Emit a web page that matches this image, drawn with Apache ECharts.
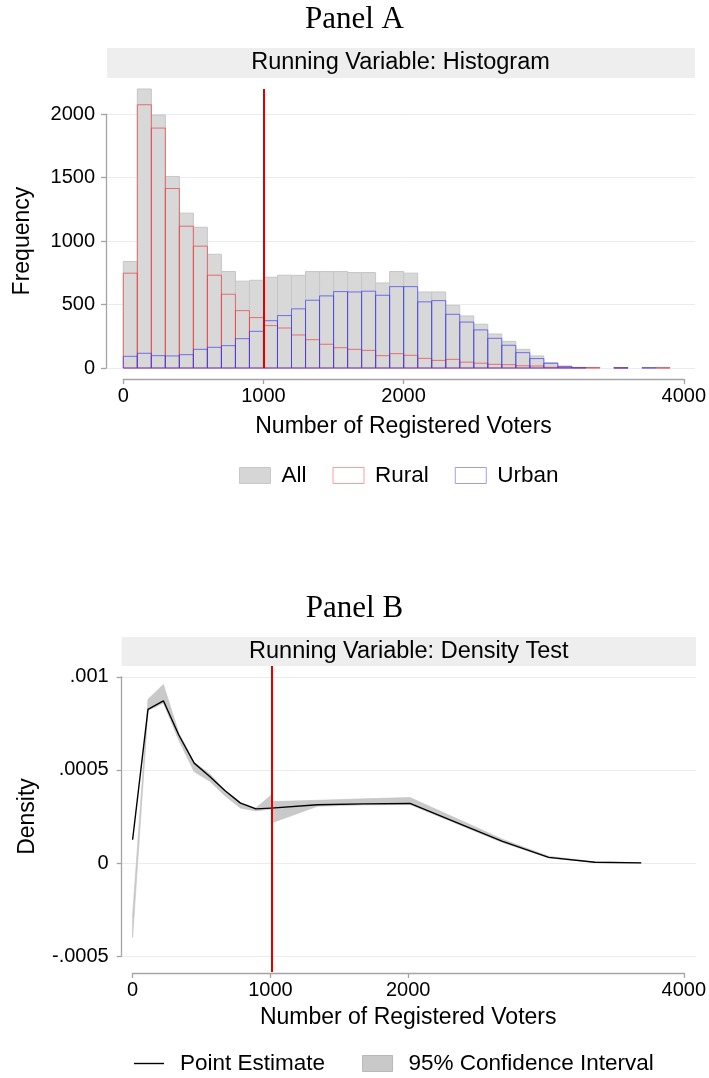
<!DOCTYPE html>
<html>
<head>
<meta charset="utf-8">
<script src="https://cdn.jsdelivr.net/npm/echarts@6/dist/echarts.min.js"></script>
<style>
  html, body { margin: 0; padding: 0; background: #ffffff; }
  #chart { width: 709px; height: 1078px; }
</style>
</head>
<body>
<div id="chart"></div>
<script>
// ---------- Panel A: histogram of registered voters (100-voter bins) ----------
const binWidth = 100;
const binStarts = [0, 100, 200, 300, 400, 500, 600, 700, 800, 900,
  1000, 1100, 1200, 1300, 1400, 1500, 1600, 1700, 1800, 1900,
  2000, 2100, 2200, 2300, 2400, 2500, 2600, 2700, 2800, 2900,
  3000, 3100, 3200, 3300, 3400, 3500, 3600, 3700, 3800];
const allCounts = [839, 2198, 1993, 1509, 1220, 1109, 896, 760, 684, 691,
  715, 731, 730, 760, 760, 760, 752, 752, 670, 760,
  747, 599, 599, 494, 410, 345, 268, 210, 147, 95,
  42, 16, 5, 3, 0, 3, 0, 2, 2];
const ruralCounts = [747, 2074, 1890, 1414, 1117, 960, 731, 581, 452, 397,
  334, 315, 260, 223, 187, 160, 147, 139, 97, 113,
  100, 76, 60, 68, 46, 38, 29, 26, 18, 16,
  5, 4, 2, 3, 0, 1, 0, 0, 2];
const urbanCounts = [92, 116, 97, 95, 105, 147, 163, 176, 231, 289,
  373, 413, 466, 534, 568, 602, 599, 605, 573, 641,
  641, 521, 531, 423, 362, 300, 234, 179, 121, 74,
  37, 11, 3, 0, 0, 2, 0, 2, 0];
const cutoff = 1000;
const voterTicks = [0, 1000, 2000, 4000];
const freqMax = 2000, freqStep = 500;

// ---------- Panel B: density test (local polynomial estimate and 95% CI) ----------
const densLeftX   = [0, 111, 222, 333, 444, 556, 667, 778, 889, 1000];
const densLeftEst = [0.000125, 0.000826, 0.000872, 0.000688, 0.000537, 0.000465, 0.000388, 0.000322, 0.000291, 0.000295];
const densLeftLo  = [-0.00040, 0.00082, 0.00086, 0.00066, 0.00049, 0.00044, 0.00036, 0.000295, 0.00028, 0.00029];
const densLeftHi  = [-0.00028, 0.00088, 0.00096, 0.00070, 0.00054, 0.00048, 0.00039, 0.000325, 0.000295, 0.000366];
const densRightX   = [1000, 1333, 1667, 2000, 2333, 2667, 3000, 3333, 3667];
const densRightEst = [0.000295, 0.000313, 0.000318, 0.000320, 0.000218, 0.000116, 0.000030, 0.000004, 0.0000005];
const densRightLo  = [0.000215, 0.000305, 0.000312, 0.000314, 0.000212, 0.000110, 0.000027, 0.000003, 0.0];
const densRightHi  = [0.000330, 0.000337, 0.000345, 0.000352, 0.000240, 0.000128, 0.000036, 0.000006, 0.000001];
const densTickMin = -0.0005, densTickMax = 0.001, densStep = 0.0005;

// ---------- layout ----------
const SANS = '"Liberation Sans", Arial, Helvetica, sans-serif';
const SERIF = '"Liberation Serif", "Times New Roman", Times, serif';
const AXIS_GRAY = '#a4a4a4';
const GRID_GRAY = '#ececec';

const A = { plotL: 123.3, plotR: 684, top: 89, bottom: 368, frameL: 106, frameR: 695, axisY: 379 };
const B = { plotL: 132.6, plotR: 687.4, top: 666, bottom: 972, frameL: 121.7, frameR: 696, axisY: 973 };
const yMaxA = Math.max(...allCounts);
const yMinB = -0.000586, yMaxB = 0.001059;
const yPixA = v => A.bottom - v / yMaxA * (A.bottom - A.top);
const yPixB = v => B.top + (yMaxB - v) / (yMaxB - yMinB) * (B.bottom - B.top);

const axisLine = { show: true, onZero: false, lineStyle: { color: AXIS_GRAY, width: 1.3 } };
const axisTick = { show: true, length: 5, lineStyle: { color: AXIS_GRAY, width: 1.3 } };
const tickFont = { fontFamily: SANS, fontSize: 20, color: '#000' };
const nameFont = { fontFamily: SANS, fontSize: 23, color: '#000' };

// plain integers, and decimals written without the leading zero
const plainNum = v => String(v);
const stataNum = v => {
  if (Math.abs(v) < 1e-12) return '0';
  return String(+v.toFixed(6)).replace('0.', '.');
};

// one rectangle per histogram bin, positioned through the axis scales
function histRender(fill, stroke) {
  return function (params, api) {
    const x0 = api.value(0), c = api.value(1);
    if (!(c > 0)) return null;
    const p0 = api.coord([x0, 0]);
    const p1 = api.coord([x0 + binWidth, c]);
    return {
      type: 'rect',
      shape: { x: p0[0], y: p1[1], width: p1[0] - p0[0], height: p0[1] - p1[1] },
      style: { fill: fill, stroke: stroke, lineWidth: 1 }
    };
  };
}

// confidence band drawn as one polygon: lower bound forward, upper bound back
function bandRender(xs, lo, hi) {
  return function (params, api) {
    const pts = [];
    for (let i = 0; i < xs.length; i++) pts.push(api.coord([xs[i], lo[i]]));
    for (let i = xs.length - 1; i >= 0; i--) pts.push(api.coord([xs[i], hi[i]]));
    return { type: 'polygon', shape: { points: pts }, style: { fill: '#c9c9c9', stroke: '#c2c2c2', lineWidth: 0.6 } };
  };
}

const zip = (xs, ys) => xs.map((x, i) => [x, ys[i]]);
const cutLine = {
  silent: true, symbol: 'none', animation: false,
  label: { show: false },
  lineStyle: { color: '#e00000', width: 2, type: 'solid' },
  data: [{ xAxis: cutoff }]
};

const option = {
  animation: false,
  backgroundColor: '#ffffff',
  title: [
    { text: 'Panel A', left: 'center', top: 4, padding: 0,
      textStyle: { fontFamily: SERIF, fontSize: 31, fontWeight: 'normal', color: '#000' } },
    { text: 'Panel B', left: 'center', top: 593, padding: 0,
      textStyle: { fontFamily: SERIF, fontSize: 31, fontWeight: 'normal', color: '#000' } }
  ],
  graphic: [
    { type: 'rect', silent: true, shape: { x: A.frameL + 1, y: 48, width: A.frameR - A.frameL - 1, height: 30 }, style: { fill: '#eeeeee' } },
    { type: 'text', silent: true, x: (A.frameL + A.frameR) / 2, y: 63,
      style: { text: 'Running Variable: Histogram', fontFamily: SANS, fontSize: 23.5, fill: '#000', align: 'center', verticalAlign: 'middle' } },
    { type: 'rect', silent: true, shape: { x: B.frameL, y: 637, width: B.frameR - B.frameL, height: 29 }, style: { fill: '#eeeeee' } },
    { type: 'text', silent: true, x: (B.frameL + B.frameR) / 2, y: 651.5,
      style: { text: 'Running Variable: Density Test', fontFamily: SANS, fontSize: 23.5, fill: '#000', align: 'center', verticalAlign: 'middle' } }
  ],
  legend: [
    { left: 239, top: 464, padding: 0, itemWidth: 31, itemHeight: 16, itemGap: 26, selectedMode: false,
      textStyle: { fontFamily: SANS, fontSize: 22.5, color: '#000', padding: [0, 0, 0, 6] },
      data: [
        { name: 'All', icon: 'rect', itemStyle: { color: '#d6d6d6', borderColor: '#c8c8c8', borderWidth: 1 } },
        { name: 'Rural', icon: 'rect', itemStyle: { color: 'rgba(255,255,255,0)', borderColor: '#ff9c9c', borderWidth: 1 } },
        { name: 'Urban', icon: 'rect', itemStyle: { color: 'rgba(255,255,255,0)', borderColor: '#9c9cff', borderWidth: 1 } }
      ] },
    { left: 134, top: 1052, padding: 0, itemWidth: 30, itemHeight: 16, itemGap: 37, selectedMode: false,
      symbolKeepAspect: true,
      textStyle: { fontFamily: SANS, fontSize: 22.5, color: '#000', padding: [0, 0, 0, 11] },
      data: [
        { name: 'Point Estimate', icon: 'path://M0,0L30,0L30,1.4L0,1.4Z', itemStyle: { color: '#000', borderWidth: 0 } },
        { name: '95% Confidence Interval', icon: 'rect', itemStyle: { color: '#c9c9c9', borderColor: '#b9b9b9', borderWidth: 1 } }
      ] }
  ],
  grid: [
    { left: A.plotL, width: A.plotR - A.plotL, top: A.top, height: A.bottom - A.top },
    { left: A.frameL, width: A.frameR - A.frameL, top: yPixA(freqMax), height: yPixA(0) - yPixA(freqMax) },
    { left: A.plotL, width: A.plotR - A.plotL, top: A.axisY - 1, height: 1 },
    { left: B.plotL, width: B.plotR - B.plotL, top: B.top, height: B.bottom - B.top },
    { left: B.frameL, width: B.frameR - B.frameL, top: yPixB(densTickMax), height: yPixB(densTickMin) - yPixB(densTickMax) },
    { left: B.plotL, width: B.plotR - B.plotL, top: B.axisY - 1, height: 1 }
  ],
  xAxis: [
    { gridIndex: 0, type: 'value', min: 0, max: 4000, show: false },
    { gridIndex: 1, type: 'value', min: 0, max: 1, show: false },
    { gridIndex: 2, type: 'value', min: 0, max: 4000, position: 'bottom',
      axisLine: axisLine, axisTick: Object.assign({ customValues: voterTicks }, axisTick),
      axisLabel: Object.assign({ customValues: voterTicks, margin: 7, formatter: plainNum }, tickFont),
      splitLine: { show: false },
      name: 'Number of Registered Voters', nameLocation: 'middle', nameGap: 36, nameTextStyle: nameFont },
    { gridIndex: 3, type: 'value', min: 0, max: 4000, show: false },
    { gridIndex: 4, type: 'value', min: 0, max: 1, show: false },
    { gridIndex: 5, type: 'value', min: 0, max: 4000, position: 'bottom',
      axisLine: axisLine, axisTick: Object.assign({ customValues: voterTicks }, axisTick),
      axisLabel: Object.assign({ customValues: voterTicks, margin: 7, formatter: plainNum }, tickFont),
      splitLine: { show: false },
      name: 'Number of Registered Voters', nameLocation: 'middle', nameGap: 33, nameTextStyle: nameFont }
  ],
  yAxis: [
    { gridIndex: 0, type: 'value', min: 0, max: yMaxA, show: false },
    { gridIndex: 1, type: 'value', min: 0, max: freqMax, interval: freqStep, position: 'left',
      axisLine: axisLine, axisTick: axisTick,
      axisLabel: Object.assign({ margin: 11, formatter: plainNum }, tickFont),
      splitLine: { show: true, lineStyle: { color: GRID_GRAY, width: 1 } },
      name: 'Frequency', nameLocation: 'middle', nameGap: 72, nameTextStyle: nameFont },
    { gridIndex: 2, type: 'value', min: 0, max: 1, show: false },
    { gridIndex: 3, type: 'value', min: yMinB, max: yMaxB, show: false },
    { gridIndex: 4, type: 'value', min: densTickMin, max: densTickMax, interval: densStep, position: 'left',
      axisLine: axisLine, axisTick: axisTick,
      axisLabel: Object.assign({ margin: 13, formatter: stataNum }, tickFont),
      splitLine: { show: true, lineStyle: { color: GRID_GRAY, width: 1 } },
      name: 'Density', nameLocation: 'middle', nameGap: 83, nameTextStyle: nameFont },
    { gridIndex: 5, type: 'value', min: 0, max: 1, show: false }
  ],
  series: [
    { name: 'All', type: 'custom', xAxisIndex: 0, yAxisIndex: 0, z: 2,
      itemStyle: { color: '#d6d6d6' },
      renderItem: histRender('#d8d8d8', '#c6c6c6'),
      data: zip(binStarts, allCounts) },
    { name: 'Rural', type: 'custom', xAxisIndex: 0, yAxisIndex: 0, z: 3,
      itemStyle: { color: '#ff9c9c' },
      renderItem: histRender('rgba(0,0,0,0)', 'rgba(238,60,60,0.68)'),
      data: zip(binStarts, ruralCounts) },
    { name: 'Urban', type: 'custom', xAxisIndex: 0, yAxisIndex: 0, z: 4,
      itemStyle: { color: '#9c9cff' },
      renderItem: histRender('rgba(0,0,0,0)', 'rgba(60,60,238,0.68)'),
      data: zip(binStarts, urbanCounts),
      markLine: cutLine },

    { name: '95% Confidence Interval', type: 'custom', xAxisIndex: 3, yAxisIndex: 3, z: 2,
      itemStyle: { color: '#c9c9c9' },
      renderItem: bandRender(densLeftX, densLeftLo, densLeftHi),
      data: [[densLeftX[0], densLeftEst[0]]] },
    { name: '95% Confidence Interval', type: 'custom', xAxisIndex: 3, yAxisIndex: 3, z: 2,
      itemStyle: { color: '#c9c9c9' },
      renderItem: bandRender(densRightX, densRightLo, densRightHi),
      data: [[densRightX[0], densRightEst[0]]] },
    { name: 'Point Estimate', type: 'line', xAxisIndex: 3, yAxisIndex: 3, z: 3,
      symbol: 'none', showSymbol: false,
      lineStyle: { color: '#000', width: 1.4 }, itemStyle: { color: '#000' },
      data: zip(densLeftX, densLeftEst) },
    { name: 'Point Estimate', type: 'line', xAxisIndex: 3, yAxisIndex: 3, z: 3,
      symbol: 'none', showSymbol: false,
      lineStyle: { color: '#000', width: 1.4 }, itemStyle: { color: '#000' },
      data: zip(densRightX, densRightEst),
      markLine: cutLine }
  ]
};

const chart = echarts.init(document.getElementById('chart'), null, { renderer: 'canvas' });
chart.setOption(option);
</script>
</body>
</html>
